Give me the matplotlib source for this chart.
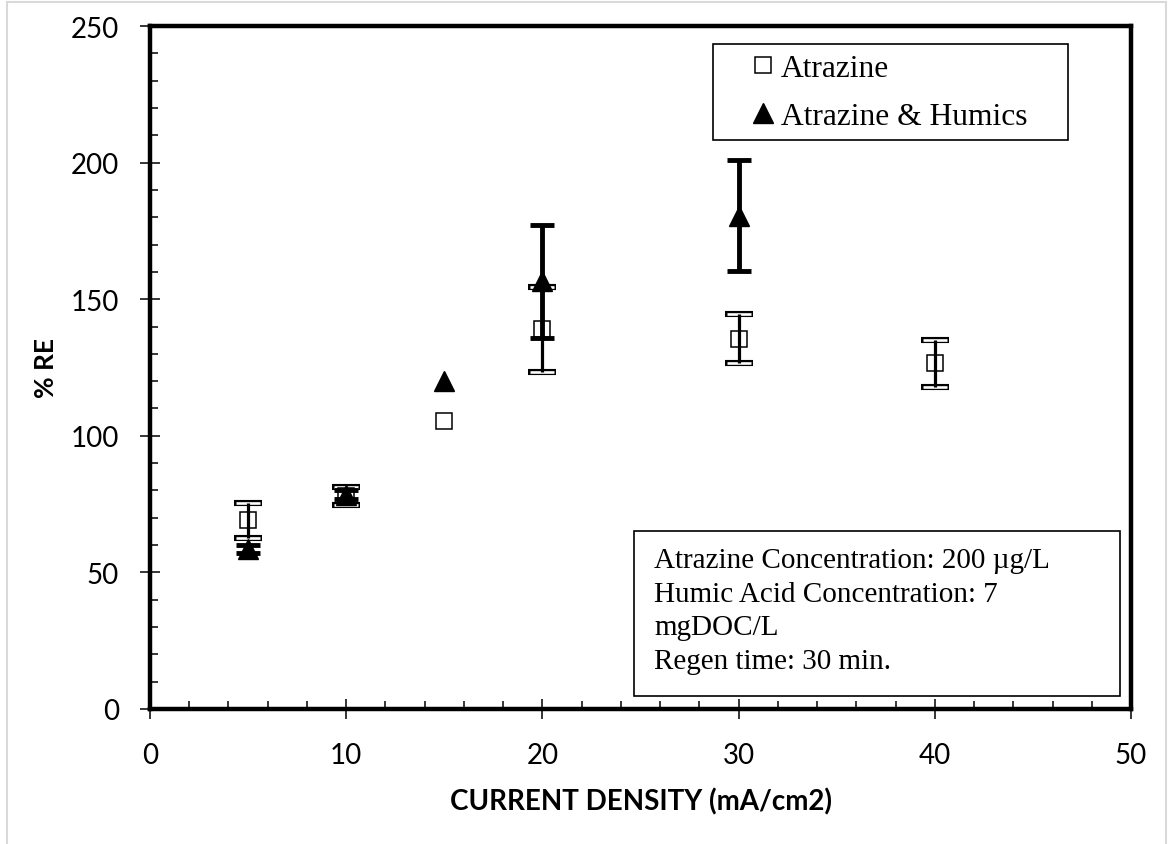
import numpy as np
import matplotlib.pyplot as plt
from matplotlib.lines import Line2D
from matplotlib.patches import Rectangle
from matplotlib.ticker import MultipleLocator

# Atrazine only
x_atr = [5, 10, 15, 20, 30, 40]
re_atr = [69, 78, 105.5, 139, 135.5, 126.5]
err_atr = [6.5, 3.3, 0, 15.5, 9, 8.7]

# Atrazine with humic acid
x_hum = [5, 10, 15, 20, 30]
re_hum = [58.6, 78.5, 120, 156.5, 180.5]
err_hum = [1.5, 1.5, 0, 20.7, 20.3]

series_names = ["Atrazine", "Atrazine & Humics"]
notes = ["Atrazine Concentration: 200 \u00b5g/L",
         "Humic Acid Concentration: 7",
         "mgDOC/L",
         "Regen time: 30 min."]

W, H = 1173, 845
SANS = "Lato"
SERIF = "Liberation Serif"


def fx(px):
    return px / W


def fy(py):
    return 1 - py / H


fig = plt.figure(figsize=(W / 100, H / 100), dpi=100)
ax = fig.add_axes([fx(150), fy(710), fx(1131) - fx(150), fy(27) - fy(710)])

# light grey border round the whole chart area
fig.patches.append(Rectangle((fx(7), fy(850)), fx(1166) - fx(7), fy(3) - fy(850),
                             transform=fig.transFigure, fill=False,
                             edgecolor="#d9d9d9", lw=1.5))

xa, ya, ea = np.array(x_atr), np.array(re_atr), np.array(err_atr)
m = ea > 0
# hollow caps: thick black caps with thinner white caps on top
_, caps, bars = ax.errorbar(xa[m], ya[m], yerr=ea[m], fmt="none", ecolor="black",
                            capsize=10, capthick=4.4, zorder=2)
for b in bars:
    b.set_visible(False)
_, caps, bars = ax.errorbar(xa[m], ya[m], yerr=ea[m], fmt="none", ecolor="white",
                            capsize=8.9, capthick=1.9, zorder=3)
for b in bars:
    b.set_visible(False)
ax.plot(x_atr, re_atr, ls="none", marker="s", ms=12, mfc="white", mec="black",
        mew=1.1, zorder=4.5)
ax.vlines(xa[m], ya[m] - ea[m], ya[m] + ea[m], color="black", lw=2.3, zorder=4.6)

xh, yh, eh = np.array(x_hum), np.array(re_hum), np.array(err_hum)
k = eh > 0
ax.errorbar(xh[k], yh[k], yerr=eh[k], fmt="none", ecolor="black",
            elinewidth=3.5, capsize=8.3, capthick=3.5, zorder=5)
ax.plot(x_hum, re_hum, ls="none", marker="^", ms=14, color="black", zorder=6)

ax.set_xlim(0, 50)
ax.set_ylim(0, 250)
ax.xaxis.set_major_locator(MultipleLocator(10))
ax.xaxis.set_minor_locator(MultipleLocator(2))
ax.yaxis.set_major_locator(MultipleLocator(50))
ax.yaxis.set_minor_locator(MultipleLocator(10))
ax.tick_params(which="major", direction="inout", length=15, width=1.1,
               labelsize=20)
ax.tick_params(axis="x", which="major", pad=16)
ax.tick_params(axis="y", which="major", pad=15)
ax.tick_params(which="minor", direction="in", length=5.5, width=1.1)
for lab in ax.get_xticklabels() + ax.get_yticklabels():
    lab.set_fontfamily(SANS)
for s in ax.spines.values():
    s.set_linewidth(3.2)

ax.set_xlabel("CURRENT DENSITY (mA/cm2)", fontsize=20, fontweight="bold",
              family=SANS, labelpad=14)
ax.set_ylabel("% RE", fontsize=19, fontweight="bold", family=SANS)
ax.yaxis.set_label_coords((58 - 150) / 981, 0.5)

# legend, drawn without its own frame inside a plain box
handles = [Line2D([], [], ls="none", marker="s", ms=12, mfc="white", mec="black", mew=1.1),
           Line2D([], [], ls="none", marker="^", ms=14, color="black")]
fig.legend(handles, series_names, loc="upper left", frameon=False,
           bbox_to_anchor=(fx(753), fy(55)), borderpad=0, borderaxespad=0,
           handlelength=0.64, handletextpad=0.24, labelspacing=0.6,
           prop={"family": SERIF, "size": 22.7})
fig.patches.append(Rectangle((fx(713), fy(141)), fx(1068) - fx(713), fy(45) - fy(141),
                             transform=fig.transFigure, fill=False,
                             edgecolor="black", lw=1.2, zorder=10))

# test conditions box
fig.patches.append(Rectangle((fx(634), fy(697)), fx(1120) - fx(634), fy(532) - fy(697),
                             transform=fig.transFigure, facecolor="white",
                             edgecolor="black", lw=1.2, zorder=10))
fig.text(fx(654), fy(548), "\n".join(notes), family=SERIF, fontsize=21,
         va="top", ha="left", linespacing=1.38, zorder=11)

fig.savefig("out.png", dpi=100, facecolor="white")
